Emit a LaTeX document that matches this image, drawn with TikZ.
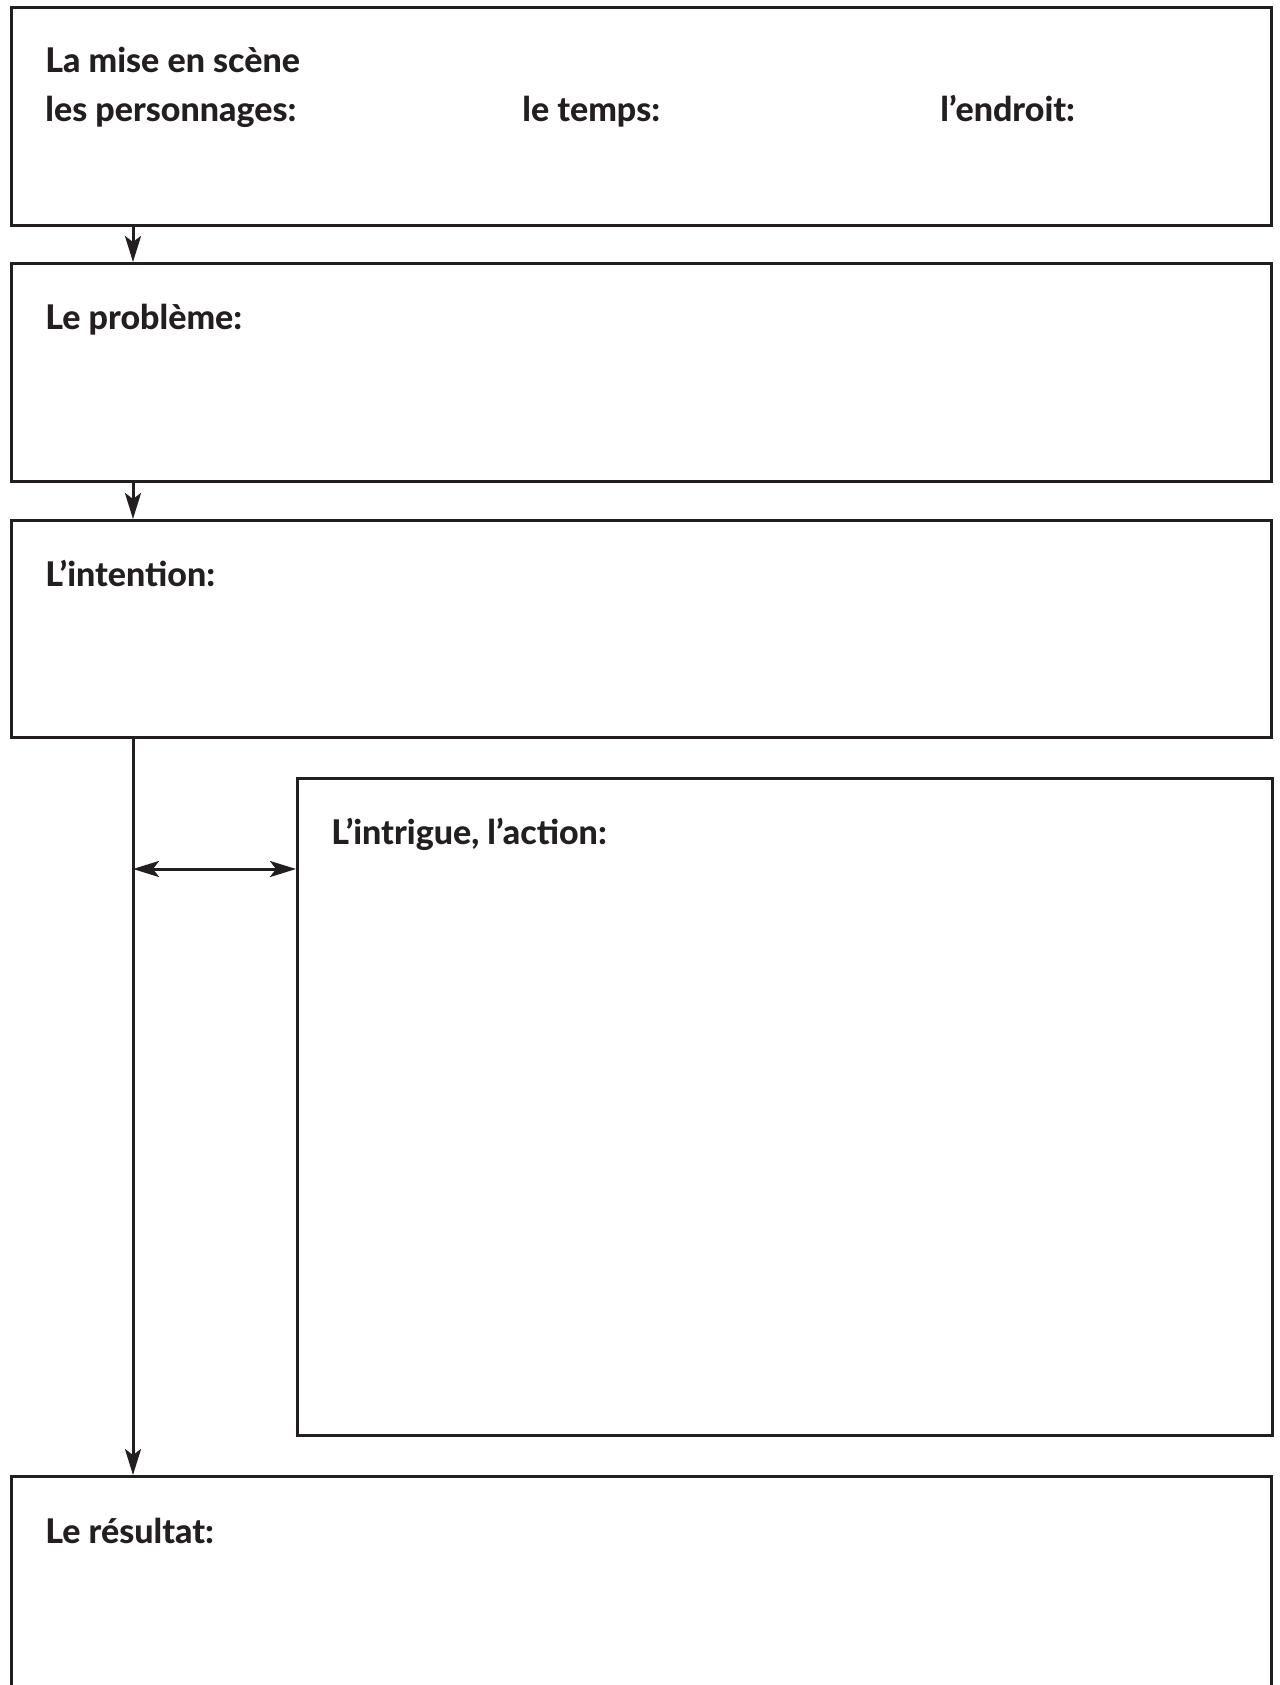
\documentclass[tikz,border=0pt]{standalone}
\usepackage{fontspec}
\setmainfont{Lato}[BoldFont={Lato Heavy}]
\usetikzlibrary{arrows.meta}
\definecolor{ink}{HTML}{231F20}

\begin{document}
\begin{tikzpicture}[x=0.5pt, y=-0.5pt,
        box/.style={draw=ink, line width=1.3pt, rectangle, anchor=north west, inner sep=0pt},
        lbl/.style={anchor=base west, inner sep=0pt, text=ink, font=\fontsize{17}{20}\selectfont\bfseries},
        tip/.tip={Stealth[length=13pt, width=8pt, inset=3pt]},
        arr/.style={draw=ink, line width=1.5pt, -tip}]
        \clip (0,0) rectangle (1279,1685);
        \fill[white] (0,0) rectangle (1279,1685);

        % sizes in pt: one picture unit is 0.5pt
        \node[box, minimum width=630pt, minimum height=109pt](mise) at (10,6) {};
        \node[box, minimum width=630pt, minimum height=109pt](probleme) at (10,262) {};
        \node[box, minimum width=630pt, minimum height=108.5pt](intention) at (10,519) {};
        \node[box, minimum width=487.5pt, minimum height=328.5pt](intrigue) at (296,777) {};
        \node[box, minimum width=630pt, minimum height=130pt](resultat) at (10,1475) {};

        \node[lbl](t-mise) at (45,73) {La mise en scène};
        \node[lbl](t-pers) at (45,122) {les personnages:};
        \node[lbl](t-temps) at (522,122) {le temps:};
        \node[lbl](t-endroit) at (940,122) {l’endroit:};
        \node[lbl](t-probleme) at (45,329) {Le problème:};
        \node[lbl](t-intention) at (45,586) {L’intention:};
        \node[lbl](t-intrigue) at (331,844) {L’intrigue, l’action:};
        \node[lbl](t-resultat) at (45,1543) {Le résultat:};

        \coordinate (axis) at (133,0);
        \coordinate (mid) at (133,869);
        \draw[arr] (mise.south -| axis) -- (probleme.north -| axis);
        \draw[arr] (probleme.south -| axis) -- (intention.north -| axis);
        \draw[arr] (intention.south -| axis) -- (resultat.north -| axis);
        \draw[arr, tip-tip] (mid) -- (mid -| intrigue.west);
    \end{tikzpicture}
\end{document}
